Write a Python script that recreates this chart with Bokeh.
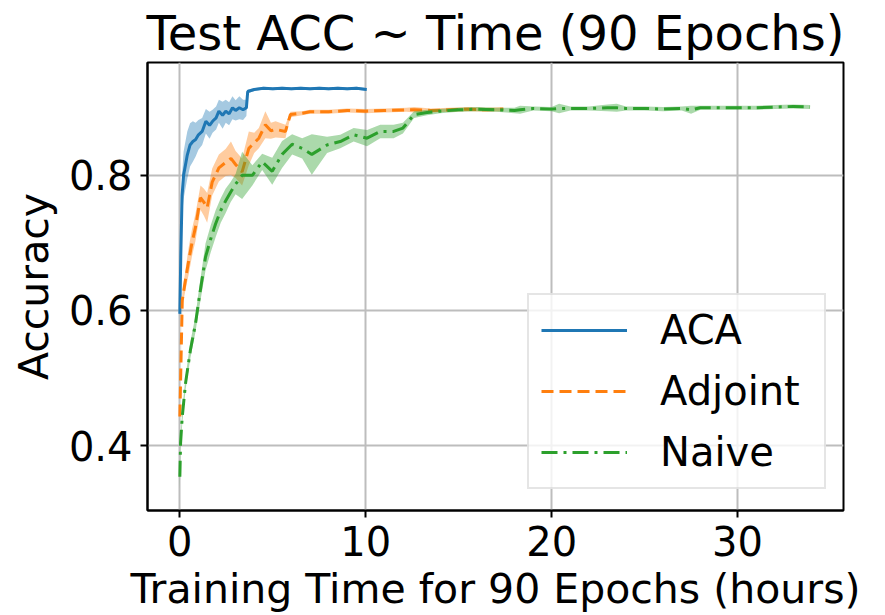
from bokeh.plotting import figure
from bokeh.models import Range1d, Legend, LegendItem, FixedTicker
from bokeh.embed import file_html
from bokeh.resources import INLINE

# ---- data ----
aca_x = [0.0, 0.05, 0.12, 0.2, 0.3, 0.4, 0.55, 0.7, 0.85, 1.0, 1.2, 1.4, 1.6, 1.76, 1.95, 2.1, 2.3,
         2.47, 2.65, 2.83, 3.0, 3.2, 3.4, 3.58, 3.65, 4.0, 4.5, 5.0, 5.5, 6.0, 6.5, 7.0, 7.5, 8.0,
         8.5, 9.0, 9.5, 10.05]
aca_y = [0.595, 0.68, 0.77, 0.80, 0.815, 0.83, 0.845, 0.85, 0.853, 0.86, 0.865, 0.88, 0.874, 0.88,
         0.885, 0.895, 0.889, 0.895, 0.891, 0.90, 0.896, 0.90, 0.897, 0.90, 0.924, 0.927, 0.929,
         0.928, 0.929, 0.928, 0.929, 0.928, 0.929, 0.928, 0.929, 0.928, 0.929, 0.927]
aca_sd = [0.0, 0.02, 0.03, 0.035, 0.035, 0.035, 0.032, 0.03, 0.025, 0.022, 0.02, 0.018, 0.02, 0.017,
          0.017, 0.017, 0.02, 0.017, 0.017, 0.017, 0.015, 0.017, 0.015, 0.012, 0.003, 0.002, 0.002,
          0.002, 0.002, 0.002, 0.002, 0.002, 0.002, 0.002, 0.002, 0.002, 0.002, 0.002]

adj_x = [0.0, 0.13, 0.3, 0.48, 0.65, 0.84, 1.11, 1.3, 1.47, 1.74, 2.1, 2.46, 2.75, 3.0, 3.35, 3.71,
         4.0, 4.25, 4.6, 4.9, 5.15, 5.68, 5.95, 6.58, 7.0, 8.0, 9.0, 10.0, 11.0, 12.2, 12.6, 13.5,
         14.5, 15.5, 16.5, 17.4]
adj_y = [0.443, 0.615, 0.645, 0.674, 0.70, 0.723, 0.767, 0.76, 0.752, 0.79, 0.811, 0.819, 0.825,
         0.816, 0.805, 0.84, 0.848, 0.855, 0.875, 0.866, 0.868, 0.865, 0.89, 0.892, 0.894, 0.894,
         0.896, 0.895, 0.896, 0.897, 0.897, 0.896, 0.897, 0.898, 0.897, 0.898]
adj_sd = [0.0, 0.01, 0.015, 0.02, 0.02, 0.02, 0.018, 0.02, 0.022, 0.02, 0.02, 0.02, 0.025, 0.02,
          0.02, 0.025, 0.015, 0.015, 0.02, 0.012, 0.012, 0.01, 0.004, 0.003, 0.003, 0.003, 0.003,
          0.003, 0.003, 0.003, 0.004, 0.003, 0.003, 0.003, 0.003, 0.003]

nai_x = [0.0, 0.04, 0.13, 0.31, 0.57, 0.84, 1.02, 1.38, 1.65, 1.92, 2.2, 2.46, 2.73, 3.0, 3.35, 3.9,
         4.43, 4.97, 5.5, 6.04, 6.58, 7.1, 7.92, 8.63, 9.35, 10.07, 10.78, 11.5, 12.0, 12.6, 13.3,
         14.0, 15.0, 16.0, 17.0, 18.0, 18.3, 19.0, 20.0, 20.4, 21.0, 22.0, 23.0, 23.5, 24.0, 25.0,
         26.0, 27.0, 27.5, 28.0, 29.0, 30.0, 31.0, 32.0, 33.0, 33.9]
nai_y = [0.354, 0.404, 0.443, 0.493, 0.542, 0.58, 0.615, 0.679, 0.705, 0.728, 0.748, 0.762, 0.775,
         0.787, 0.80, 0.80, 0.82, 0.806, 0.831, 0.846, 0.84, 0.831, 0.845, 0.85, 0.86, 0.855, 0.865,
         0.865, 0.87, 0.89, 0.893, 0.895, 0.897, 0.898, 0.897, 0.896, 0.897, 0.899, 0.898, 0.899,
         0.899, 0.899, 0.9, 0.9, 0.899, 0.899, 0.898, 0.899, 0.897, 0.9, 0.9, 0.9, 0.9, 0.901, 0.902,
         0.901]
nai_sd = [0.02, 0.01, 0.01, 0.01, 0.012, 0.012, 0.015, 0.02, 0.02, 0.02, 0.018, 0.018, 0.015, 0.015,
          0.035, 0.015, 0.012, 0.02, 0.02, 0.015, 0.015, 0.03, 0.012, 0.01, 0.01, 0.012, 0.01, 0.01,
          0.008, 0.005, 0.004, 0.003, 0.003, 0.003, 0.003, 0.004, 0.006, 0.003, 0.003, 0.007, 0.003,
          0.003, 0.005, 0.006, 0.003, 0.003, 0.003, 0.003, 0.006, 0.003, 0.003, 0.003, 0.003, 0.003,
          0.003, 0.003]

x_ticks = [0, 10, 20, 30]
y_ticks = [0.4, 0.6, 0.8]

BLUE, ORANGE, GREEN = "#1f77b4", "#ff7f0e", "#2ca02c"
FONT = "DejaVu Sans"

p = figure(width=885, height=615, output_backend="svg", toolbar_location=None,
           x_range=Range1d(-1.74, 35.7), y_range=Range1d(0.304, 0.967),
           min_border_left=147, min_border_right=42, min_border_top=61, min_border_bottom=104)

p.title.text = "Test ACC ~ Time (90 Epochs)"
p.title.text_font = FONT
p.title.text_font_size = "48px"
p.title.text_font_style = "normal"
p.title.text_color = "black"
p.title.align = "center"
p.title.offset = 0
p.title.standoff = 4

for ax in (p.xaxis[0], p.yaxis[0]):
    ax.major_label_text_font = FONT
    ax.major_label_text_font_size = "40px"
    ax.axis_label_text_font = FONT
    ax.axis_label_text_font_size = "41px"
    ax.axis_label_text_font_style = "normal"
    ax.major_tick_in = 0
    ax.major_tick_out = 7
    ax.major_tick_line_width = 2
    ax.minor_tick_line_color = None
    ax.axis_line_width = 2
    ax.axis_line_color = "black"
    ax.major_label_text_color = "black"
    ax.axis_label_text_color = "black"

p.xaxis.ticker = FixedTicker(ticks=x_ticks)
p.yaxis.ticker = FixedTicker(ticks=y_ticks)
p.xaxis.axis_label = "Training Time for 90 Epochs (hours)"
p.yaxis.axis_label = "Accuracy"
p.xaxis.major_label_standoff = 8
p.yaxis.major_label_standoff = 8
p.xaxis.axis_label_standoff = 6
p.yaxis.axis_label_standoff = 8

p.grid.grid_line_color = "#bdbdbd"
p.grid.grid_line_width = 2
p.outline_line_color = "black"
p.outline_line_width = 2
p.background_fill_color = "white"

def band(x, y, sd, color):
    lo = [a - b for a, b in zip(y, sd)]
    hi = [a + b for a, b in zip(y, sd)]
    p.varea(x=x, y1=lo, y2=hi, fill_color=color, fill_alpha=0.4)

band(aca_x, aca_y, aca_sd, BLUE)
r1 = p.line(aca_x, aca_y, line_color=BLUE, line_width=3)
band(adj_x, adj_y, adj_sd, ORANGE)
r2 = p.line(adj_x, adj_y, line_color=ORANGE, line_width=3, line_dash="12 6")
band(nai_x, nai_y, nai_sd, GREEN)
r3 = p.line(nai_x, nai_y, line_color=GREEN, line_width=3, line_dash="16 6 3 6")

legend = Legend(items=[LegendItem(label="ACA", renderers=[r1]),
                       LegendItem(label="Adjoint", renderers=[r2]),
                       LegendItem(label="Naive", renderers=[r3])],
                location=(380, 21))
legend.label_text_font = FONT
legend.label_text_font_size = "40px"
legend.label_text_color = "black"
legend.glyph_width = 86
legend.glyph_height = 20
legend.label_standoff = 33
legend.label_width = 152
legend.padding = 12
legend.spacing = 15
legend.margin = 0
legend.border_line_color = "#cccccc"
legend.border_line_width = 2
legend.background_fill_alpha = 0.8
p.add_layout(legend, "center")

open("out.html", "w").write(file_html(p, INLINE))
